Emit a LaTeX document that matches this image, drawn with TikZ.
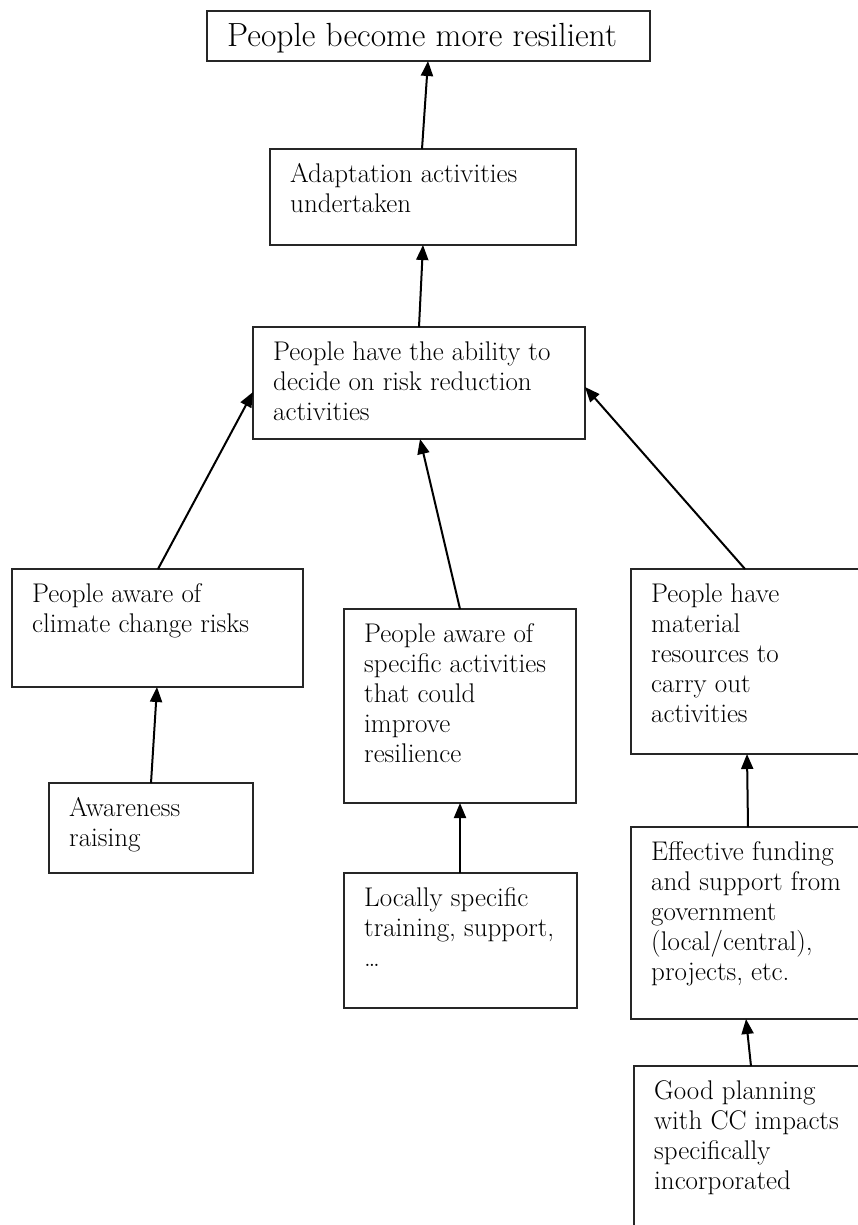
\documentclass[tikz,border=0pt]{standalone}
\usetikzlibrary{arrows.meta}
\begin{document}
\begin{tikzpicture}[x=1pt,y=-1pt,
  boxst/.style={draw=black!85, line width=1.9pt, inner sep=0pt, outer sep=0pt, anchor=north west},
  txt/.style={anchor=north west, inner sep=0pt, align=left, font=\fontsize{27}{30}\selectfont},
  titletxt/.style={anchor=base west, inner sep=0pt, font=\fontsize{33.5}{38}\selectfont},
  arr/.style={-{Triangle[length=15pt,width=12pt]}, line width=2pt}]
\useasboundingbox (0,0) rectangle (858,1225);
\clip (0,0) rectangle (858,1225);
% boxes
\node[boxst, minimum width=443pt, minimum height=50pt] (b1) at (207,11) {};
\node[boxst, minimum width=306pt, minimum height=96pt] (b2) at (270,149) {};
\node[boxst, minimum width=332pt, minimum height=112pt] (b3) at (253,327) {};
\node[boxst, minimum width=291pt, minimum height=118pt] (b4) at (12,569) {};
\node[boxst, minimum width=232pt, minimum height=194pt] (b5) at (344,609) {};
\node[boxst, minimum width=240pt, minimum height=185pt] (b6) at (631,569) {};
\node[boxst, minimum width=204pt, minimum height=90pt] (b7) at (49,783) {};
\node[boxst, minimum width=233pt, minimum height=135pt] (b8) at (344,873) {};
\node[boxst, minimum width=240pt, minimum height=192pt] (b9) at (631,827) {};
\node[boxst, minimum width=240pt, minimum height=200pt] (b10) at (634,1066) {};
% texts
\node[titletxt] (t1) at ([xshift=20pt,yshift=14pt]b1.south west) {People become more resilient};
\node[txt] (t2) at ([xshift=20pt,yshift=-12pt]b2.north west) {\strut Adaptation activities\\undertaken};
\node[txt] (t3) at ([xshift=20pt,yshift=-12pt]b3.north west) {\strut People have the ability to\\decide on risk reduction\\activities};
\node[txt] (t4) at ([xshift=20pt,yshift=-12pt]b4.north west) {\strut People aware of\\climate change risks};
\node[txt] (t5) at ([xshift=20pt,yshift=-12pt]b5.north west) {\strut People aware of\\specific activities\\that could\\improve\\resilience};
\node[txt] (t6) at ([xshift=20pt,yshift=-12pt]b6.north west) {\strut People have\\material\\resources to\\carry out\\activities};
\node[txt] (t7) at ([xshift=20pt,yshift=-12pt]b7.north west) {\strut Awareness\\raising};
\node[txt] (t8) at ([xshift=20pt,yshift=-12pt]b8.north west) {\strut Locally specific\\training, support,\\\dots};
\node[txt] (t9) at ([xshift=20pt,yshift=-12pt]b9.north west) {\strut Effective funding\\and support from\\government\\(local/central),\\projects, etc.};
\node[txt] (t10) at ([xshift=20pt,yshift=-12pt]b10.north west) {\strut Good planning\\with CC impacts\\specifically\\incorporated};
% arrows
\draw[arr] ([xshift=152pt]b2.north west) -- ([xshift=221pt]b1.south west);
\draw[arr] ([xshift=166pt]b3.north west) -- ([xshift=153pt]b2.south west);
\draw[arr] ([xshift=146pt]b4.north west) -- ([yshift=-65pt]b3.north west);
\draw[arr] ([xshift=116pt]b5.north west) -- ([xshift=167pt]b3.south west);
\draw[arr] ([xshift=114pt]b6.north west) -- ([yshift=-60pt]b3.north east);
\draw[arr] ([xshift=102pt]b7.north west) -- ([xshift=145pt]b4.south west);
\draw[arr] ([xshift=116pt]b8.north west) -- ([xshift=116pt]b5.south west);
\draw[arr] ([xshift=117pt]b9.north west) -- ([xshift=116pt]b6.south west);
\draw[arr] ([xshift=117pt]b10.north west) -- ([xshift=115pt]b9.south west);
\end{tikzpicture}
\end{document}
